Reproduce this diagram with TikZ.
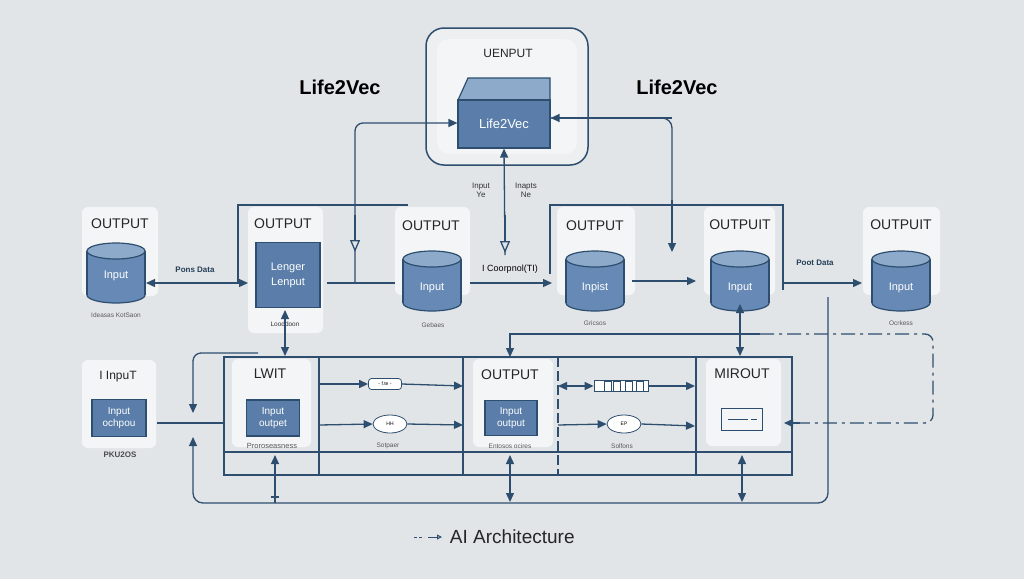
\documentclass[tikz,border=0pt]{standalone}
\usepackage{fontspec}
\setmainfont{Liberation Sans}
\usetikzlibrary{arrows.meta,positioning,shapes.geometric}
\definecolor{bg}{HTML}{E2E5E8}
\definecolor{ln}{HTML}{2D4E6E}
\definecolor{bluef}{HTML}{5A7EA9}
\definecolor{cylf}{HTML}{6689B5}
\definecolor{cylt}{HTML}{8DAACB}
\definecolor{panel}{HTML}{F3F5F7}
\begin{document}
\begin{tikzpicture}[x=1pt,y=-1pt,
  line width=1.3pt,
  conn/.style={draw=ln,line width=1.3pt},
  arr/.style={conn,-{Triangle[length=9pt,width=8pt]}},
  darr/.style={conn,{Triangle[length=9pt,width=8pt]}-{Triangle[length=9pt,width=8pt]}},
  oarr/.style={conn,-{Triangle[open,length=12pt,width=10pt,fill=bg]}},
  pnl/.style={fill=panel,draw=none,rounded corners=6pt},
  ttl/.style={font=\fontsize{14}{14}\selectfont,text=black!85},
  lab/.style={font=\fontsize{6.5}{7}\selectfont,text=black!65},
  blab/.style={font=\bfseries\fontsize{8}{9}\selectfont,text=ln!80!black},
  bbox/.style={fill=bluef,draw=ln,line width=1.2pt,text=white,align=center,font=\fontsize{10}{12}\selectfont,inner sep=0pt},
  ctext/.style={text=white,font=\fontsize{11}{11}\selectfont},
  cyl/.pic={
    \filldraw[fill=cylf,draw=ln,line width=1.2pt] (0,22) ellipse[x radius=29,y radius=8];
    \fill[cylf] (-29,-22) rectangle (29,22);
    \draw[ln,line width=1.2pt] (-29,-22) -- (-29,22) (29,-22) -- (29,22);
    \filldraw[fill=cylt,draw=ln,line width=1.2pt] (0,-22) ellipse[x radius=29,y radius=8];
  }]
\fill[bg] (0,0) rectangle (1024,579);
\useasboundingbox (0,0) rectangle (1024,579);

% ---------- top ----------
\draw[ln,line width=1.5pt,rounded corners=18pt,fill=bg!60!white] (426,28) rectangle (588,165);
\fill[panel,rounded corners=12pt] (437,39) rectangle (577,154);
\node[ttl,font=\fontsize{12}{12}\selectfont] (uen) at (508,53) {UENPUT};
\filldraw[fill=cylt,draw=ln,line width=1.2pt] (458,100) -- (468,78) -- (550,78) -- (550,100) -- cycle;
\node[bbox,minimum width=92pt,minimum height=48pt,font=\fontsize{13}{13}\selectfont] (core) at (504,124) {Life2Vec};
\node[font=\bfseries\fontsize{20}{20}\selectfont] (tl) at (340,87) {Life2Vec};
\node[font=\bfseries\fontsize{20}{20}\selectfont] (tr) at (677,87) {Life2Vec};
\node[lab,font=\fontsize{8}{9}\selectfont,align=center,text=black!80] (in1) at (481,190) {Input\\Ye};
\node[lab,font=\fontsize{8}{9}\selectfont,align=center,text=black!80] (in2) at (526,190) {Inapts\\Ne};

% ---------- row 1 panels ----------
\fill[pnl] (82,207) rectangle (158,296);
\node[ttl] (tA) at (120,224) {OUTPUT};
\pic at (116,273) {cyl};
\node[ctext] (A) at (116,276) {Input};
\node[lab] (lA) at (116,315) {Ideasas KotSaon};

\fill[pnl] (248,207) rectangle (323,333);
\node[ttl] (tB) at (283,224) {OUTPUT};
\node[bbox,minimum width=64pt,minimum height=65pt,font=\fontsize{11}{15}\selectfont] (B) at (288,275) {Lenger\\Lenput};
\node[lab,text=black!80] (lB) at (285,324) {Looddoon};

\fill[pnl] (395,207) rectangle (470,295);
\node[ttl] (tC) at (431,226) {OUTPUT};
\pic at (432,281) {cyl};
\node[ctext] (C) at (432,288) {Input};
\node[lab] (lC) at (433,325) {Gebaes};

\fill[pnl] (557,207) rectangle (635,295);
\node[ttl] (tD) at (595,226) {OUTPUT};
\pic at (595,281) {cyl};
\node[ctext] (D) at (595,288) {Inpist};
\node[lab] (lD) at (595,323) {Gricsos};

\fill[pnl] (704,207) rectangle (775,295);
\node[ttl] (tE) at (740,225) {OUTPUIT};
\pic at (740,281) {cyl};
\node[ctext] (E) at (740,288) {Input};

\fill[pnl] (863,207) rectangle (940,295);
\node[ttl] (tF) at (901,225) {OUTPUIT};
\pic at (901,281) {cyl};
\node[ctext] (F) at (901,288) {Input};
\node[lab] (lF) at (901,323) {Ocrkess};

% ---------- row 1 connectors ----------
\coordinate (a1) at (146,283); \coordinate (b1) at (248,283);
\draw[darr] (a1) -- (b1);
\node[blab] (pd) at (195,270) {Pons Data};
\coordinate (b2) at (327,283); \coordinate (c2) at (395,283);
\draw[conn] (b2) -- (c2);
\coordinate (c3) at (470,283); \coordinate (d3) at (552,283);
\draw[arr] (c3) -- (d3);
\node[font=\fontsize{9}{10}\selectfont] (cp) at (510,269) {I Coorpnol(TI)};
\coordinate (d4) at (632,281); \coordinate (e4) at (696,281);
\draw[arr] (d4) -- (e4);
\coordinate (e5) at (783,283); \coordinate (f5) at (862,283);
\draw[arr] (e5) -- (f5);
\node[blab] (pt) at (815,263) {Poot Data};

% frames
\draw[conn] (408,205) -- (238,205) -- (238,283);
\draw[conn] (550,274) -- (550,205) -- (783,205) -- (783,290);
% up/left/right feeds to core
\coordinate (l1) at (355,283);
\draw[arr,rounded corners=8pt] (l1) -- (355,123) -- (core.west |- 0,123);
\draw[oarr] (355,215) -- (355,252);
\coordinate (m1) at (505,255);
\draw[arr] (m1) -- (core.south);
\draw[oarr] (505,215) -- (505,253);
\coordinate (r1) at (672,250);
\draw[conn,rounded corners=10pt] (r1) -- (672,118) -- (core.east |- 0,118);
\draw[arr] (672,118) -- (core.east |- 0,118);
\draw[arr] (672,200) -- (672,252);

% ---------- row 2 frame ----------
\draw[conn] (224,357) rectangle (792,475);
\draw[conn] (224,452) -- (792,452);
\draw[conn] (319,357) -- (319,475);
\draw[conn] (463,357) -- (463,475);
\draw[conn,dash pattern=on 10pt off 4pt] (558,357) -- (558,475);
\draw[conn] (696,357) -- (696,475);

% row 2 panels
\fill[pnl] (82,360) rectangle (156,448);
\node[ttl,font=\fontsize{12}{12}\selectfont] (tG) at (118,377) {I InpuT};
\node[bbox,minimum width=54pt,minimum height=37pt] (G) at (119,418) {Input\\ochpou};
\node[blab,text=black!70] (lG) at (120,455) {PKU2OS};

\fill[pnl] (232,359) rectangle (311,447);
\node[ttl] (tH) at (270,374) {LWIT};
\node[bbox,minimum width=53pt,minimum height=36pt] (H) at (273,418) {Input\\outpet};
\node[lab,font=\fontsize{7.5}{8}\selectfont] (lH) at (272,446) {Proroseasness};

\fill[pnl] (473,359) rectangle (553,447);
\node[ttl] (tI) at (510,375) {OUTPUT};
\node[bbox,minimum width=52pt,minimum height=35pt] (I) at (511,418) {Input\\output};
\node[lab] (lI) at (510,446) {Entosos ocires};

\fill[pnl] (706,359) rectangle (781,446);
\node[ttl] (tJ) at (742,374) {MIROUT};
\node[draw=ln,line width=1pt,fill=panel,minimum width=41pt,minimum height=22pt] (J) at (742,419) {};
\draw[ln,line width=0.8pt] (728,419) -- (748,419) (751,419) -- (757,419);

% row 2 icons
\node[draw=ln,line width=0.8pt,fill=white,rounded corners=3pt,minimum width=33pt,minimum height=11pt,inner sep=0pt,font=\fontsize{5}{5}\selectfont] (ic1) at (385,384) {- f.te -};
\node[draw=ln,line width=0.8pt,fill=white,ellipse,minimum width=34pt,minimum height=18pt,inner sep=0pt,font=\fontsize{5}{5}\selectfont] (ic2) at (390,424) {HH};
\node[lab] (lic2) at (388,446) {Sotpaer};
\node[draw=ln,line width=0.8pt,fill=white,minimum width=54pt,minimum height=11pt,inner sep=0pt] (ic3) at (621,386) {};
\foreach \xx in {604,613,625,636} \draw[ln,line width=0.7pt] (\xx,381) rectangle (\xx+7,391);
\node[draw=ln,line width=0.8pt,fill=white,ellipse,minimum width=34pt,minimum height=18pt,inner sep=0pt,font=\fontsize{5}{5}\selectfont] (ic4) at (624,424) {EP};
\node[lab] (lic4) at (622,446) {Solfons};

% row 2 connectors
\draw[arr] (319,384) -- (ic1.west);
\draw[arr] (ic1.east) -- (463,386);
\draw[arr] (319,425) -- (ic2.west);
\draw[arr] (ic2.east) -- (463,425);
\draw[darr] (558,386) -- (ic3.west);
\draw[arr] (ic3.east) -- (695,386);
\draw[arr] (558,425) -- (ic4.west);
\draw[arr] (ic4.east) -- (695,426);

% verticals between rows
\draw[darr] (285,310) -- (285,356);
\draw[darr] (740,304) -- (740,356);
\draw[conn] (157,423) -- (224,423);
\coordinate (lp) at (258,353);
\draw[arr,rounded corners=8pt] (lp) -- (193,353) -- (193,413);
\draw[arr,rounded corners=10pt] (828,297) -- (828,503) -- (193,503) -- (193,437);
\draw[arr] (275,503) -- (275,455);
\draw[conn] (271,497) -- (279,497);
\draw[darr] (510,455) -- (510,502);
\draw[darr] (742,455) -- (742,502);

% dashed return
\draw[arr] (760,334) -- (510,334) -- (510,357);
\draw[conn,dash pattern=on 14pt off 5pt on 3pt off 5pt,rounded corners=8pt] (760,334) -- (933,334) -- (933,423) -- (800,423);
\draw[arr] (800,423) -- (784,423);

% ---------- caption ----------
\draw[ln,line width=1pt,dash pattern=on 3pt off 2pt] (414,537) -- (424,537);
\draw[ln,line width=1pt,-{Triangle[open,length=5pt,width=5pt]}] (428,537) -- (442,537);
\node[anchor=west,font=\fontsize{19}{19}\selectfont,text=black!85] (cap) at (446,537) {AI Architecture};
\end{tikzpicture}
\end{document}
